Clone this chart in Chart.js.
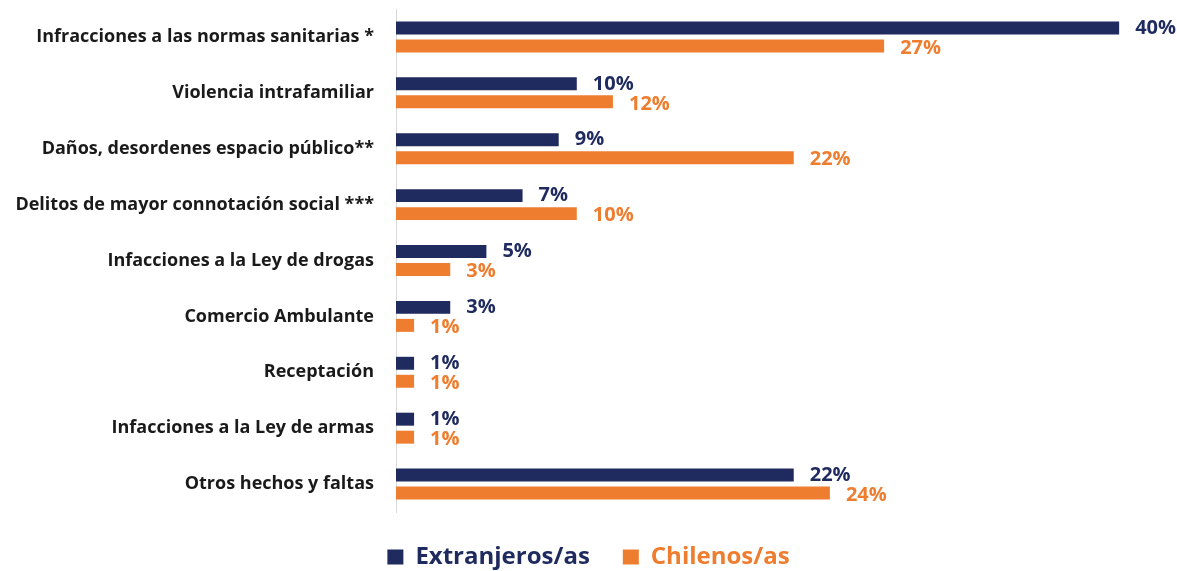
<!DOCTYPE html>
<html>
<head>
<meta charset="utf-8">
<script src="https://cdn.jsdelivr.net/npm/chart.js@4"></script>
<style>
  html, body { margin: 0; padding: 0; background: #fff; }
  #wrap { width: 1177px; height: 571px; }
</style>
</head>
<body>
<div id="wrap"><canvas id="faltas-chart"></canvas></div>
<script>
const categories = [
  "Infracciones a las normas sanitarias *",
  "Violencia intrafamiliar",
  "Daños, desordenes espacio público**",
  "Delitos de mayor connotación social ***",
  "Infacciones a la Ley de drogas",
  "Comercio Ambulante",
  "Receptación",
  "Infacciones a la Ley de armas",
  "Otros hechos y faltas"
];
const extranjeros = [40, 10, 9, 7, 5, 3, 1, 1, 22];
const chilenos = [27, 12, 22, 10, 3, 1, 1, 1, 24];

const NAVY = "#1f2a5e";
const ORANGE = "#ee7d2f";
const FONT = "'Open Sans', Lato, sans-serif";

// percentage labels to the right of each bar
const barLabels = {
  id: "barLabels",
  afterDatasetsDraw(chart) {
    const ctx = chart.ctx;
    ctx.save();
    ctx.font = "bold 20px " + FONT;
    ctx.textBaseline = "middle";
    ctx.textAlign = "left";
    chart.data.datasets.forEach((ds, i) => {
      const meta = chart.getDatasetMeta(i);
      meta.data.forEach((bar, j) => {
        ctx.fillStyle = ds.backgroundColor;
        const dy = i === 0 ? 0 : 2;
        ctx.fillText(ds.data[j] + "%", bar.x + 16, bar.y + dy);
      });
    });
    ctx.restore();
  }
};

const ctx = document.getElementById("faltas-chart");
new Chart(ctx, {
  type: "bar",
  data: {
    labels: categories,
    datasets: [
      {
        label: "Extranjeros/as",
        data: extranjeros,
        backgroundColor: NAVY,
        categoryPercentage: 0.644,
        barPercentage: 0.72
      },
      {
        label: "Chilenos/as",
        data: chilenos,
        backgroundColor: ORANGE,
        categoryPercentage: 0.644,
        barPercentage: 0.72
      }
    ]
  },
  options: {
    indexAxis: "y",
    responsive: true,
    maintainAspectRatio: false,
    animation: false,
    layout: {
      padding: { top: 9, right: 0, bottom: -8, left: 0 }
    },
    scales: {
      x: {
        display: false,
        min: 0,
        max: 43.2
      },
      y: {
        afterFit(scale) {
          scale.width = 396;
          scale.paddingTop = 0;
          scale.paddingBottom = 0;
        },
        grid: { display: false, drawTicks: false },
        border: { display: true, color: "#d9d9d9", width: 1 },
        ticks: {
          padding: 22,
          color: "#1a1a1a",
          font: { family: FONT, weight: "bold", size: 18 }
        }
      }
    },
    plugins: {
      tooltip: { enabled: false },
      legend: {
        position: "bottom",
        labels: {
          boxWidth: 16,
          boxHeight: 15,
          padding: 33,
          font: { family: FONT, weight: "bold", size: 24 },
          generateLabels(chart) {
            return chart.data.datasets.map((ds, i) => ({
              text: ds.label,
              fillStyle: ds.backgroundColor,
              strokeStyle: ds.backgroundColor,
              lineWidth: 0,
              fontColor: ds.backgroundColor,
              datasetIndex: i,
              hidden: false
            }));
          }
        }
      }
    }
  },
  plugins: [barLabels]
});
</script>
</body>
</html>
